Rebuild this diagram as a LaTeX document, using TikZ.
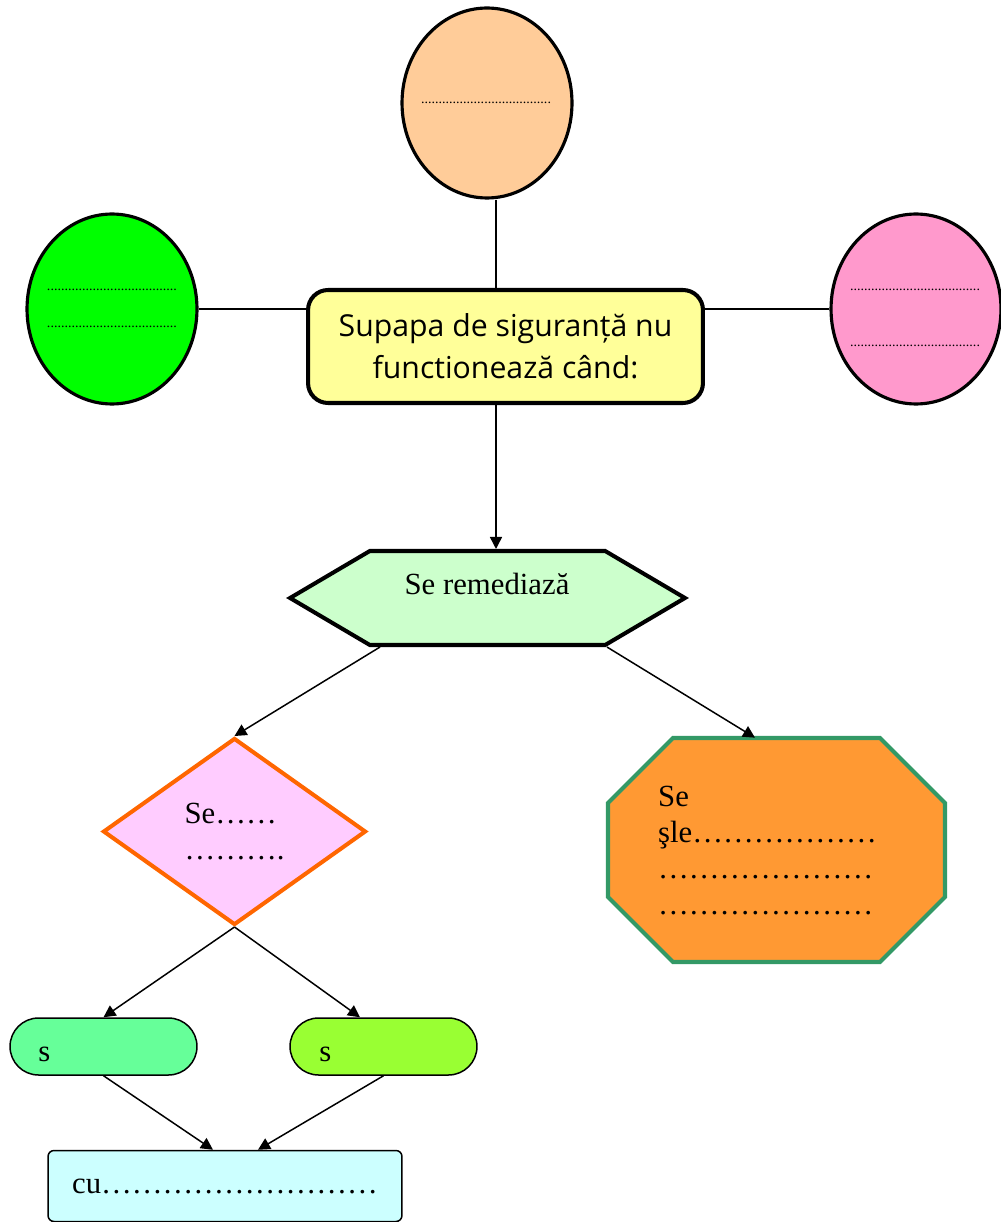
\documentclass[tikz,border=0pt]{standalone}
\usepackage{fontspec}
\setmainfont{Liberation Serif}
\newfontfamily\comicfont{Open Sans}
\usetikzlibrary{arrows.meta, shapes.geometric, shapes.misc, shapes.symbols, positioning}
\definecolor{fillPeach}{HTML}{FFCC99}
\definecolor{fillLime}{HTML}{00FF00}
\definecolor{fillPink}{HTML}{FF99CC}
\definecolor{fillLemon}{HTML}{FFFF99}
\definecolor{fillMint}{HTML}{CCFFCC}
\definecolor{fillLilac}{HTML}{FFCCFF}
\definecolor{lineOrange}{HTML}{FF6600}
\definecolor{fillOrange}{HTML}{FF9933}
\definecolor{lineSea}{HTML}{339966}
\definecolor{fillSpring}{HTML}{66FF99}
\definecolor{fillChart}{HTML}{99FF33}
\definecolor{fillIce}{HTML}{CCFFFF}
\newcommand{\dotline}{.....................................}
\tikzset{
  conn/.style      = {line width=0.85pt, black},
  arr/.style       = {conn, -{Triangle[length=2.4mm, width=2.4mm]}},
  bubble/.style    = {ellipse, draw=black, line width=1.8pt,
                      minimum width=3.4cm, minimum height=3.8cm, inner sep=0pt},
  dotrow/.style    = {font=\fontsize{8}{9}\selectfont, inner sep=0pt},
  serif/.style     = {font=\fontsize{17.5}{20.5}\selectfont},
  mainbox/.style   = {rectangle, rounded corners=0.4cm, draw=black, line width=2.3pt,
                      fill=fillLemon, minimum width=7.9cm, minimum height=2.26cm,
                      align=center, font=\comicfont\fontsize{17.2}{24}\selectfont},
  hexbox/.style    = {signal, signal to=west and east, signal pointer angle=61,
                      draw=black, line width=2.3pt, fill=fillMint,
                      minimum width=7.9cm, minimum height=1.88cm},
  decision/.style  = {diamond, draw=lineOrange, line width=2.3pt, fill=fillLilac,
                      minimum width=5.26cm, minimum height=3.74cm, aspect=1.4,
                      align=left, serif},
  octline/.style   = {draw=lineSea, line width=2.3pt, fill=fillOrange},
  octbox/.style    = {rectangle, minimum width=6.74cm, minimum height=4.48cm,
                      align=left, serif},
  pill/.style      = {rectangle, rounded corners=0.57cm, draw=black, line width=0.85pt,
                      minimum width=3.74cm, minimum height=1.14cm},
  endbox/.style    = {rectangle, rounded corners=0.12cm, draw=black, line width=0.85pt,
                      fill=fillIce, minimum width=7.08cm, minimum height=1.42cm, serif},
}
\begin{document}
\begin{tikzpicture}[x=0.02cm, y=-0.02cm]
  \useasboundingbox (0,0) rectangle (1000,1222);

  % bubbles round the main question
  \node[bubble, fill=fillPeach] (top)   at (487,103) {};
  \node[bubble, fill=fillLime]  (left)  at (112,309) {};
  \node[bubble, fill=fillPink]  (right) at (916,309) {};
  \node[dotrow] (topdots) at (486,103) {\dotline};
  \node[dotrow] (leftdotsA) at (112,290) {\dotline};
  \node[dotrow] (leftdotsB) at (112,327) {\dotline};
  \node[dotrow] (rightdotsA) at (915,290) {\dotline};
  \node[dotrow] (rightdotsB) at (915,346) {\dotline};

  \node[mainbox] (box) at (505.5,346.5) {Supapa de siguranță nu\\functionează când:};

  \coordinate (axis) at (496,0);
  \draw[conn] (axis |- top.south) -- (axis |- box.north);
  \draw[conn] (left.east) -- (left.east -| box.west);
  \draw[conn] (right.west) -- (right.west -| box.east);

  % remedies
  \node[hexbox] (hex) at (487.5,598) {};
  \node[serif] (hextext) at (487,584) {Se remediază};
  \draw[arr] (axis |- box.south) -- (axis |- hex.north);

  \node[decision] (dia) at (234.5,831.5) {Se……\\……….};

  \coordinate (octc) at (776.5,850);
  \draw[octline] (octc) ++(-103.5,-112) -- ++(207,0) -- ++(65,65) -- ++(0,94)
    -- ++(-65,65) -- ++(-207,0) -- ++(-65,-65) -- ++(0,-94) -- cycle;
  \node[octbox] (oct) at (octc) {};
  \node[serif, anchor=north west, align=left] (octtext) at (652,780)
    {Se\\şle………………\\…………………\\…………………};
  \draw[arr] ([xshift=-2.15cm]hex.south) -- (dia.north);
  \draw[arr] ([xshift=2.39cm]hex.south) -- ([xshift=-0.43cm]oct.north);

  \node[pill, fill=fillSpring] (pillL) at (103.5,1046.5) {};
  \node[pill, fill=fillChart]  (pillR) at (383.5,1046.5) {};
  \node[serif, anchor=base west] (sL) at ([shift={(0.46cm,-0.29cm)}]pillL.west) {s};
  \node[serif, anchor=base west] (sR) at ([shift={(0.48cm,-0.29cm)}]pillR.west) {s};
  \draw[arr] (dia.south) -- (pillL.north);
  \draw[arr] (dia.south) -- ([xshift=-0.47cm]pillR.north);

  \node[endbox] (cu) at (225,1186) {cu………………………};
  \draw[arr] (pillL.south) -- ([xshift=-0.24cm]cu.north);
  \draw[arr] (pillR.south) -- ([xshift=0.66cm]cu.north);
\end{tikzpicture}
\end{document}
